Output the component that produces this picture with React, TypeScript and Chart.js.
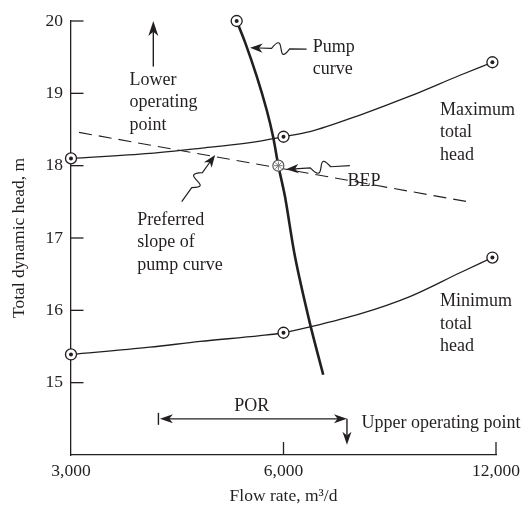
import React, { useEffect, useRef } from 'react';
import { Chart, registerables } from 'chart.js';

Chart.register(...registerables);

const INK = '#231f20';
const FONT = '"Liberation Serif", "Times New Roman", serif';

// Axis ticks
const xTickValues = [3000, 6000, 12000];
const yTickValues = [15, 16, 17, 18, 19, 20];

// Maximum total head system curve
const maxHeadFlow = [3000, 3880, 4570, 5380, 6000, 6540, 7700, 9060, 10670, 11860];
const maxHeadValue = [18.1, 18.17, 18.24, 18.32, 18.4, 18.47, 18.7, 18.96, 19.25, 19.43];

// Minimum total head system curve
const minHeadFlow = [3000, 3880, 4570, 5560, 6000, 6540, 7700, 9060, 10670, 11860];
const minHeadValue = [15.39, 15.49, 15.57, 15.65, 15.69, 15.77, 15.95, 16.19, 16.52, 16.73];

// Pump curve
const pumpFlow = [5150, 5300, 5500, 5680, 5800, 5900, 6030, 6230, 6540, 6830];
const pumpHead = [20.0, 19.69, 19.23, 18.77, 18.4, 18.0, 17.57, 16.74, 15.82, 15.11];

// Preferred slope (dashed)
const slopeFlow = [3080, 10970];
const slopeHead = [18.46, 17.5];

// Circled markers
const markerFlow = [3000, 6000, 11860, 3000, 6000, 11860, 5150];
const markerHead = [18.1, 18.4, 19.43, 15.39, 15.69, 16.73, 20.0];

// Best efficiency point
const bepFlow = [5900];
const bepHead = [18.0];

// Text notes (anchor = left / baseline of first line, in data units)
const notes = [
  { text: ['Lower', 'operating', 'point'], flow: 3630, head: 19.116, center: false },
  { text: ['Preferred', 'slope of', 'pump curve'], flow: 3724, head: 17.18, center: false },
  { text: ['Pump', 'curve'], flow: 6600, head: 19.576, center: false },
  { text: ['Maximum', 'total', 'head'], flow: 10000, head: 18.7, center: false },
  { text: ['BEP'], flow: 7390, head: 17.725, center: false },
  { text: ['Minimum', 'total', 'head'], flow: 10000, head: 16.054, center: false },
  { text: ['POR'], flow: 5410, head: 14.613, center: true },
  { text: ['Upper operating point'], flow: 7740, head: 14.374, center: false },
];

// Wavy pointer arrows: tail -> tip
const pointers = [
  { fromFlow: 6470, fromHead: 19.61, toFlow: 5380, toHead: 19.63, wave: -1 },
  { fromFlow: 7450, fromHead: 18.0, toFlow: 6050, toHead: 17.95, wave: 1 },
  { fromFlow: 4305, fromHead: 17.504, toFlow: 4800, toHead: 18.149, wave: 1 },
];

// Straight arrows
const lowerArrow = { flow: 3924, fromHead: 19.37, toHead: 20.0 };
const porRange = { fromFlow: 3990, toFlow: 7380, head: 14.5 };
const upperArrow = { flow: 7380, fromHead: 14.5, toHead: 14.14 };

function arrowHead(ctx: CanvasRenderingContext2D, tx: number, ty: number, ux: number, uy: number, len: number, half: number) {
  const nx = -uy, ny = ux;
  const bx = tx - ux * len, by = ty - uy * len;
  ctx.beginPath();
  ctx.moveTo(tx, ty);
  ctx.lineTo(bx + nx * half, by + ny * half);
  ctx.lineTo(tx - ux * len * 0.72, ty - uy * len * 0.72);
  ctx.lineTo(bx - nx * half, by - ny * half);
  ctx.closePath();
  ctx.fill();
}

function straightArrow(ctx: CanvasRenderingContext2D, x1: number, y1: number, x2: number, y2: number, len: number, half: number) {
  const dx = x2 - x1, dy = y2 - y1, L = Math.hypot(dx, dy);
  const ux = dx / L, uy = dy / L;
  ctx.beginPath();
  ctx.moveTo(x1, y1);
  ctx.lineTo(x2 - ux * len * 0.7, y2 - uy * len * 0.7);
  ctx.stroke();
  arrowHead(ctx, x2, y2, ux, uy, len, half);
}

function squiggle(ctx: CanvasRenderingContext2D, tx: number, ty: number, px: number, py: number, wave: number) {
  const dx = px - tx, dy = py - ty, L = Math.hypot(dx, dy);
  const ux = dx / L, uy = dy / L, nx = -uy, ny = ux;
  const at = (t: number, o: number): [number, number] => [tx + ux * L * t + nx * o, ty + uy * L * t + ny * o];
  const k = 20 * wave;
  const A = at(0.3, 0);
  const C1 = at(0.55, k);
  const C2 = at(0.35, -k);
  const B = at(0.62, 0);
  const len = 12.5;
  const E = at(1 - (len * 0.7) / L, 0);
  ctx.beginPath();
  ctx.moveTo(tx, ty);
  ctx.lineTo(A[0], A[1]);
  ctx.bezierCurveTo(C1[0], C1[1], C2[0], C2[1], B[0], B[1]);
  ctx.lineTo(E[0], E[1]);
  ctx.stroke();
  arrowHead(ctx, px, py, ux, uy, len, 4.7);
}

const decorPlugin = {
  id: 'decor',
  beforeDatasetsDraw(chart: any) {
    const ctx: CanvasRenderingContext2D = chart.ctx;
    const xs = chart.scales.x, ys = chart.scales.y;
    const { left, bottom } = chart.chartArea;
    ctx.save();
    ctx.strokeStyle = INK;
    ctx.lineWidth = 1.3;
    yTickValues.forEach((v) => {
      const py = ys.getPixelForValue(v);
      ctx.beginPath();
      ctx.moveTo(left, py);
      ctx.lineTo(left + 12.5, py);
      ctx.stroke();
    });
    xTickValues.slice(1).forEach((v) => {
      const px = xs.getPixelForValue(v);
      ctx.beginPath();
      ctx.moveTo(px, bottom);
      ctx.lineTo(px, bottom - 13);
      ctx.stroke();
    });
    ctx.restore();
  },
  afterDatasetsDraw(chart: any) {
    const ctx: CanvasRenderingContext2D = chart.ctx;
    const xs = chart.scales.x, ys = chart.scales.y;
    const X = (v: number) => xs.getPixelForValue(v);
    const Y = (v: number) => ys.getPixelForValue(v);
    ctx.save();
    ctx.fillStyle = INK;
    ctx.strokeStyle = INK;
    ctx.font = `18px ${FONT}`;
    ctx.textBaseline = 'alphabetic';
    notes.forEach((n) => {
      ctx.textAlign = n.center ? 'center' : 'left';
      n.text.forEach((line, i) => {
        ctx.fillText(line, X(n.flow), Y(n.head) + i * 22.3);
      });
    });

    ctx.lineWidth = 1.2;
    pointers.forEach((p) => {
      squiggle(ctx, X(p.fromFlow), Y(p.fromHead), X(p.toFlow), Y(p.toHead), p.wave);
    });

    ctx.lineWidth = 1.4;
    // Lower operating point arrow
    straightArrow(ctx, X(lowerArrow.flow), Y(lowerArrow.fromHead), X(lowerArrow.flow), Y(lowerArrow.toHead), 15, 5);

    // POR double arrow
    const py = Y(porRange.head);
    const pl = X(porRange.fromFlow), pr = X(porRange.toFlow);
    ctx.beginPath();
    ctx.moveTo(pl, py - 6);
    ctx.lineTo(pl, py + 6);
    ctx.stroke();
    ctx.beginPath();
    ctx.moveTo(pl + 10, py);
    ctx.lineTo(pr - 9, py);
    ctx.stroke();
    arrowHead(ctx, pl + 1.5, py, -1, 0, 13, 4.5);
    arrowHead(ctx, pr, py, 1, 0, 13, 4.5);

    // Upper operating point arrow
    straightArrow(ctx, X(upperArrow.flow), Y(upperArrow.fromHead), X(upperArrow.flow), Y(upperArrow.toHead), 13, 4.5);
    ctx.restore();
  },
};

const pts = (xs: number[], ys: number[]) => xs.map((x, i) => ({ x, y: ys[i] }));

export default function App() {
  const ref = useRef<HTMLCanvasElement | null>(null);
  useEffect(() => {
    if (!ref.current) return;
    const chart = new Chart(ref.current, {
      type: 'scatter',
      data: {
        datasets: [
          {
            data: pts(markerFlow, markerHead), showLine: false, pointStyle: 'circle', pointRadius: 2,
            backgroundColor: INK, borderColor: INK, borderWidth: 0, order: 0, clip: false,
          },
          {
            data: pts(markerFlow, markerHead), showLine: false, pointStyle: 'circle', pointRadius: 5.5,
            backgroundColor: '#ffffff', borderColor: INK, borderWidth: 1.3, order: 1, clip: false,
          },
          {
            data: pts(bepFlow, bepHead), showLine: false, pointStyle: 'star', pointRadius: 4.3,
            backgroundColor: '#777', borderColor: '#777', borderWidth: 1, order: 2, clip: false,
          },
          {
            data: pts(bepFlow, bepHead), showLine: false, pointStyle: 'circle', pointRadius: 5.5,
            backgroundColor: '#ffffff', borderColor: '#555', borderWidth: 1.2, order: 3, clip: false,
          },
          {
            data: pts(pumpFlow, pumpHead), showLine: true, pointRadius: 0, borderColor: INK,
            borderWidth: 2.6, tension: 0.3, order: 4, clip: false,
          },
          {
            data: pts(maxHeadFlow, maxHeadValue), showLine: true, pointRadius: 0, borderColor: INK,
            borderWidth: 1.3, cubicInterpolationMode: 'monotone', order: 5, clip: false,
          },
          {
            data: pts(minHeadFlow, minHeadValue), showLine: true, pointRadius: 0, borderColor: INK,
            borderWidth: 1.3, cubicInterpolationMode: 'monotone', order: 6, clip: false,
          },
          {
            data: pts(slopeFlow, slopeHead), showLine: true, pointRadius: 0, borderColor: INK,
            borderWidth: 1.1, borderDash: [13, 7], order: 7, clip: false,
          },
        ] as any,
      },
      options: {
        animation: false,
        responsive: true,
        maintainAspectRatio: false,
        events: [],
        layout: { padding: { top: 21, right: 31, left: 0, bottom: 0 } },
        plugins: { legend: { display: false }, tooltip: { enabled: false } },
        scales: {
          x: {
            type: 'logarithmic',
            position: 'bottom',
            min: 3000,
            max: 12000,
            afterBuildTicks: (s: any) => { s.ticks = xTickValues.map((v) => ({ value: v })); },
            afterFit: (s: any) => { s.height = 52; },
            ticks: {
              callback: (v: any) => Number(v).toLocaleString('en-US'),
              color: INK, font: { family: FONT, size: 17.5 }, padding: 6, autoSkip: false, maxRotation: 0,
            },
            grid: { display: true, drawOnChartArea: false, drawTicks: false },
            border: { display: true, color: INK, width: 1.3 },
            title: {
              display: true, text: 'Flow rate, m³/d', color: INK,
              font: { family: FONT, size: 17.5 }, padding: { top: 0, bottom: 0 },
            },
          },
          y: {
            type: 'linear',
            position: 'left',
            min: 14,
            max: 20,
            afterBuildTicks: (s: any) => { s.ticks = yTickValues.map((v) => ({ value: v })); },
            afterFit: (s: any) => { s.width = 71; },
            ticks: { color: INK, font: { family: FONT, size: 17.5 }, padding: 8 },
            grid: { display: true, drawOnChartArea: false, drawTicks: false },
            border: { display: true, color: INK, width: 1.3 },
            title: {
              display: true, text: 'Total dynamic head, m', color: INK,
              font: { family: FONT, size: 17.5 }, padding: { top: 9, bottom: 0 },
            },
          },
        },
      } as any,
      plugins: [decorPlugin],
    });
    return () => chart.destroy();
  }, []);
  return (
    <div style={{ position: 'fixed', left: 0, top: 0, width: 527, height: 507, background: '#fff' }}>
      <canvas ref={ref} />
    </div>
  );
}
